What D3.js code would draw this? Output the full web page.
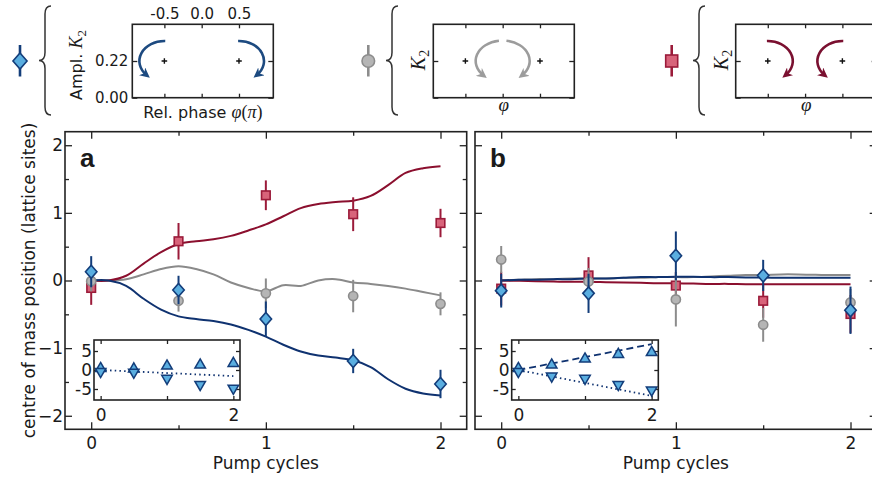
<!DOCTYPE html>
<meta charset="utf-8">
<head>
<style>
    body {margin: 0; background: #fff;}
    text {font-family: "DejaVu Sans", sans-serif; fill: #1a1a1a;}
    .math {font-family: "Liberation Serif", "DejaVu Serif", serif; font-style: italic;}
    .up {font-family: "Liberation Serif", "DejaVu Serif", serif; font-style: normal;}
</style>
</head>
<body>
<div class="chart"></div>
<script src="https://d3js.org/d3.v7.min.js"></script>
<script>
// ---- data ----
var pumpX = [0, 0.5, 1, 1.5, 2];

var aBlue = [0.13, -0.14, -0.57, -1.19, -1.53];
var aBlueErr = [0.23, 0.21, 0.26, 0.18, 0.21];
var aGray = [-0.01, -0.30, -0.19, -0.23, -0.345];
var aGrayErr = [0.15, 0.16, 0.22, 0.24, 0.17];
var aRed = [-0.11, 0.58, 1.26, 0.98, 0.85];
var aRedErr = [0.25, 0.27, 0.22, 0.25, 0.21];

var bBlue = [-0.15, -0.19, 0.365, 0.075, -0.44];
var bBlueErr = [0.25, 0.29, 0.36, 0.23, 0.35];
var bGray = [0.31, -0.015, -0.28, -0.655, -0.325];
var bGrayErr = [0.20, 0.20, 0.40, 0.25, 0.20];
var bRed = [-0.12, 0.075, -0.075, -0.30, -0.495];
var bRedErr = [0.25, 0.27, 0.20, 0.25, 0.28];

// theory curves, sampled every 0.1 cycle
var theoryX = [0, 0.1, 0.2, 0.3, 0.4, 0.5, 0.6, 0.7, 0.8, 0.9, 1.0, 1.1, 1.2, 1.3, 1.4, 1.5, 1.6, 1.7, 1.8, 1.9, 2.0];
var aRedTh = [0, 0.0, 0.07, 0.25, 0.42, 0.54, 0.58, 0.61, 0.66, 0.74, 0.83, 0.95, 1.07, 1.13, 1.16, 1.18, 1.25, 1.41, 1.59, 1.66, 1.69];
var aGrayTh = [0, 0.0, 0.02, 0.09, 0.17, 0.21, 0.17, 0.09, -0.03, -0.11, -0.16, -0.07, -0.08, 0.0, 0.02, -0.03, -0.05, -0.08, -0.12, -0.17, -0.22];
var aBlueTh = [0, 0.0, -0.08, -0.27, -0.43, -0.53, -0.57, -0.60, -0.65, -0.73, -0.83, -0.95, -1.05, -1.11, -1.14, -1.18, -1.28, -1.46, -1.60, -1.67, -1.70];
var bGrayTh = [0, 0.01, 0.02, 0.02, 0.03, 0.03, 0.03, 0.04, 0.04, 0.05, 0.05, 0.05, 0.06, 0.07, 0.08, 0.08, 0.09, 0.09, 0.085, 0.08, 0.08];
var bBlueTh = [0, 0.01, 0.01, 0.02, 0.02, 0.03, 0.03, 0.04, 0.05, 0.05, 0.055, 0.055, 0.05, 0.05, 0.045, 0.045, 0.04, 0.04, 0.04, 0.04, 0.04];
var bRedTh = [0, -0.005, -0.01, -0.015, -0.02, -0.02, -0.025, -0.03, -0.035, -0.04, -0.04, -0.045, -0.05, -0.05, -0.055, -0.055, -0.055, -0.055, -0.055, -0.055, -0.055];

// insets
var insetX = [0, 0.5, 1, 1.5, 2];
var aUp = [0.4, 0.3, 1.05, 1.3, 1.75];
var aDown = [-0.4, -0.6, -2.2, -3.8, -4.8];
var aFitX = [0, 2], aFitDown = [0, -1.6];
var bUp = [0.4, 1.3, 2.9, 4.1, 4.6];
var bDown = [-0.4, -1.6, -2.2, -3.8, -5.3];
var bFitX = [0, 2], bFitUp = [0, 6.8], bFitDown = [0, -6.8];

// schematics
var phaseTicks = [-0.5, 0, 0.5];
var phaseLabels = ["-0.5", "0.0", "0.5"];
var ampTicks = [0, 0.22];
var ampLabels = ["0.00", "0.22"];
var sitePhase = [-0.5, 0.5], siteAmp = 0.22;

var xTicksMajor = [0, 1, 2], xTicksMinor = [0.5, 1.5];
var yTicksMajor = [-2, -1, 0, 1, 2], yTicksMinor = [-1.5, -0.5, 0.5, 1.5];

// ---- colours ----
var cBlue = "#0f3270", cBlueFill = "#5aaee0", cBlueEdge = "#133d7a";
var cRed = "#8b0f2e", cRedFill = "#d8637a", cRedEdge = "#9b1b3a";
var cGray = "#8a8a8a", cGrayFill = "#b5b5b5", cGrayEdge = "#8c8c8c";

var width = 872, height = 477;
var plotTop = 131.7, plotBot = 429.3;

var svg = d3.select(".chart").append("svg")
    .attr("width", width)
    .attr("height", height);

var defs = svg.append("defs");
[["blue", "#1d4a80"], ["gray", "#9c9c9c"], ["red", "#7a1030"]].forEach(function (m) {
    defs.append("marker").attr("id", "ah-" + m[0])
        .attr("viewBox", "0 0 10 10").attr("refX", 6).attr("refY", 5)
        .attr("markerWidth", 10).attr("markerHeight", 10)
        .attr("markerUnits", "userSpaceOnUse").attr("orient", "auto")
        .append("path").attr("d", "M0,0 L10,5 L0,10 L3,5 Z").attr("fill", m[1]);
});

function styleAxis(g, size) {
    g.attr("font-family", "DejaVu Sans").attr("font-size", size);
    g.select(".domain").remove();
    g.selectAll("line").attr("stroke", "#222").attr("stroke-width", 1.3);
    g.selectAll("text").attr("fill", "#1a1a1a");
}

function drawMarker(g, type, cx, cy, s, fill, edge) {
    if (type == "diamond") {
        g.append("path")
            .attr("d", "M" + cx + "," + (cy - s) + " L" + (cx + s * 0.88) + "," + cy +
                " L" + cx + "," + (cy + s) + " L" + (cx - s * 0.88) + "," + cy + " Z")
            .attr("fill", fill).attr("stroke", edge).attr("stroke-width", 1.6);
    } else if (type == "square") {
        g.append("rect").attr("x", cx - s).attr("y", cy - s)
            .attr("width", 2 * s).attr("height", 2 * s)
            .attr("fill", fill).attr("stroke", edge).attr("stroke-width", 1.6);
    } else {
        g.append("circle").attr("cx", cx).attr("cy", cy).attr("r", s)
            .attr("fill", fill).attr("stroke", edge).attr("stroke-width", 1.6);
    }
}

function drawPanel(left, right, letter, curves, series, minorY, yLabels) {
    var x = d3.scaleLinear().domain([-0.15, 2.15]).range([left, right]);
    var y = d3.scaleLinear().domain([-2.2, 2.2]).range([plotBot, plotTop]);
    var g = svg.append("g");

    // inward ticks on all four sides
    g.append("g").attr("transform", "translate(0," + plotBot + ")")
        .call(d3.axisBottom(x).tickValues(xTicksMajor).tickSize(-7).tickPadding(8).tickFormat(d3.format("d")))
        .call(styleAxis, 17);
    g.append("g").attr("transform", "translate(0," + plotBot + ")")
        .call(d3.axisBottom(x).tickValues(xTicksMinor).tickSize(-4).tickFormat(""))
        .call(styleAxis, 17);
    g.append("g").attr("transform", "translate(0," + plotTop + ")")
        .call(d3.axisTop(x).tickValues(xTicksMajor).tickSize(-7).tickFormat(""))
        .call(styleAxis, 17);
    g.append("g").attr("transform", "translate(0," + plotTop + ")")
        .call(d3.axisTop(x).tickValues(xTicksMinor).tickSize(-4).tickFormat(""))
        .call(styleAxis, 17);
    g.append("g").attr("transform", "translate(" + left + ",0)")
        .call(d3.axisLeft(y).tickValues(yTicksMajor).tickSize(-7).tickPadding(2)
            .tickFormat(yLabels ? d3.format("d") : ""))
        .call(styleAxis, 17);
    g.append("g").attr("transform", "translate(" + right + ",0)")
        .call(d3.axisRight(y).tickValues(yTicksMajor).tickSize(-7).tickFormat(""))
        .call(styleAxis, 17);
    if (minorY) {
        g.append("g").attr("transform", "translate(" + left + ",0)")
            .call(d3.axisLeft(y).tickValues(yTicksMinor).tickSize(-4).tickFormat(""))
            .call(styleAxis, 17);
        g.append("g").attr("transform", "translate(" + right + ",0)")
            .call(d3.axisRight(y).tickValues(yTicksMinor).tickSize(-4).tickFormat(""))
            .call(styleAxis, 17);
    }

    var line = d3.line()
        .x(function (d, i) { return x(theoryX[i]); })
        .y(function (d) { return y(d); })
        .curve(d3.curveCatmullRom);
    curves.forEach(function (c) {
        g.append("path").attr("d", line(c.v))
            .attr("fill", "none").attr("stroke", c.color).attr("stroke-width", 2);
    });

    series.forEach(function (s) {
        s.v.forEach(function (v, i) {
            g.append("line")
                .attr("x1", x(pumpX[i])).attr("x2", x(pumpX[i]))
                .attr("y1", y(v - s.e[i])).attr("y2", y(v + s.e[i]))
                .attr("stroke", s.edge).attr("stroke-width", 2);
        });
        s.v.forEach(function (v, i) {
            drawMarker(g, s.type, x(pumpX[i]), y(v), s.size, s.fill, s.edge);
        });
    });

    g.append("rect").attr("x", left).attr("y", plotTop)
        .attr("width", right - left).attr("height", plotBot - plotTop)
        .attr("fill", "none").attr("stroke", "#222").attr("stroke-width", 1.6);

    g.append("text").attr("x", left + 15).attr("y", 166.5)
        .attr("font-weight", "bold").attr("font-size", 26)
        .style("font-family", "Liberation Sans, Arial, sans-serif")
        .text(letter);

    g.append("text").attr("x", x(1)).attr("y", 469)
        .attr("text-anchor", "middle").attr("font-size", 17)
        .text("Pump cycles");
}

function drawInset(left, right, up, down, fits) {
    var top = 340, bot = 400;
    var x = d3.scaleLinear().domain([-0.1, 2.1]).range([left, right]);
    var y = d3.scaleLinear().domain([-7.9, 7.9]).range([bot, top]);
    var g = svg.append("g");
    g.append("rect").attr("x", left).attr("y", top)
        .attr("width", right - left).attr("height", bot - top).attr("fill", "#fff");

    g.append("g").attr("transform", "translate(0," + bot + ")")
        .call(d3.axisBottom(x).tickValues([0, 1, 2]).tickSize(-4).tickPadding(9)
            .tickFormat(function (d) { return d == 1 ? "" : d; }))
        .call(styleAxis, 17);
    g.append("g").attr("transform", "translate(0," + top + ")")
        .call(d3.axisTop(x).tickValues([0, 1, 2]).tickSize(-4).tickFormat(""))
        .call(styleAxis, 17);
    g.append("g").attr("transform", "translate(" + left + ",0)")
        .call(d3.axisLeft(y).tickValues([-5, 0, 5]).tickSize(-4).tickPadding(2)
            .tickFormat(function (d) { return d < 0 ? "-" + (-d) : d; }))
        .call(styleAxis, 17);
    g.append("g").attr("transform", "translate(" + right + ",0)")
        .call(d3.axisRight(y).tickValues([-5, 0, 5]).tickSize(-4).tickFormat(""))
        .call(styleAxis, 17);

    var line = d3.line()
        .x(function (d) { return x(d[0]); })
        .y(function (d) { return y(d[1]); });
    fits.forEach(function (f) {
        g.append("path").attr("d", line(f.x.map(function (v, i) { return [v, f.v[i]]; })))
            .attr("fill", "none").attr("stroke", cBlue).attr("stroke-width", 1.8)
            .attr("stroke-dasharray", f.dash);
    });

    var tri = d3.symbol().type(d3.symbolTriangle).size(48);
    insetX.forEach(function (xv, i) {
        g.append("path").attr("d", tri())
            .attr("transform", "translate(" + x(xv) + "," + y(up[i]) + ")")
            .attr("fill", cBlueFill).attr("stroke", cBlueEdge).attr("stroke-width", 1.5);
        g.append("path").attr("d", tri())
            .attr("transform", "translate(" + x(xv) + "," + y(down[i]) + ") rotate(180)")
            .attr("fill", cBlueFill).attr("stroke", cBlueEdge).attr("stroke-width", 1.5);
    });

    g.append("rect").attr("x", left).attr("y", top)
        .attr("width", right - left).attr("height", bot - top)
        .attr("fill", "none").attr("stroke", "#222").attr("stroke-width", 1.6);
}

// ---- main panels ----
drawPanel(65, 466.7, "a",
    [{v: aGrayTh, color: cGray}, {v: aRedTh, color: cRed}, {v: aBlueTh, color: cBlue}],
    [{v: aRed, e: aRedErr, type: "square", size: 4.3, fill: cRedFill, edge: cRedEdge},
     {v: aGray, e: aGrayErr, type: "circle", size: 4.6, fill: cGrayFill, edge: cGrayEdge},
     {v: aBlue, e: aBlueErr, type: "diamond", size: 6.5, fill: cBlueFill, edge: cBlueEdge}],
    true, true);

drawPanel(475, 876.7, "b",
    [{v: bGrayTh, color: cGray}, {v: bRedTh, color: cRed}, {v: bBlueTh, color: cBlue}],
    [{v: bRed, e: bRedErr, type: "square", size: 4.3, fill: cRedFill, edge: cRedEdge},
     {v: bGray, e: bGrayErr, type: "circle", size: 4.6, fill: cGrayFill, edge: cGrayEdge},
     {v: bBlue, e: bBlueErr, type: "diamond", size: 6.5, fill: cBlueFill, edge: cBlueEdge}],
    false, false);

drawInset(94, 240, aUp, aDown, [{x: aFitX, v: aFitDown, dash: "1.5,3.2"}]);
drawInset(511.7, 658.3, bUp, bDown,
    [{x: bFitX, v: bFitUp, dash: "7,4"}, {x: bFitX, v: bFitDown, dash: "1.5,3.2"}]);

svg.append("text")
    .attr("transform", "translate(35,280.5) rotate(-90)")
    .attr("text-anchor", "middle").attr("font-size", 17)
    .text("centre of mass position (lattice sites)");

// ---- schematics along the top ----
function brace(x0, y0, y1) {
    var w = 12, r = 8, ym = (y0 + y1) / 2, xm = x0 + w / 2;
    return "M" + (x0 + w) + "," + y0 + " Q" + xm + "," + y0 + " " + xm + "," + (y0 + r) +
        " L" + xm + "," + (ym - r) + " Q" + xm + "," + ym + " " + x0 + "," + ym +
        " Q" + xm + "," + ym + " " + xm + "," + (ym + r) +
        " L" + xm + "," + (y1 - r) + " Q" + xm + "," + y1 + " " + (x0 + w) + "," + y1;
}

function arcPath(cx, cy, rx, ry, a0, a1) {
    var r0 = a0 * Math.PI / 180, r1 = a1 * Math.PI / 180;
    var xs = cx + rx * Math.cos(r0), ys = cy - ry * Math.sin(r0);
    var xe = cx + rx * Math.cos(r1), ye = cy - ry * Math.sin(r1);
    var sweep = a1 > a0 ? 0 : 1;
    return "M" + xs + "," + ys + " A" + rx + "," + ry + " 0 0 " + sweep + " " + xe + "," + ye;
}

var schematics = [
    {left: 132.3, braceX: 39, mk: "diamond", mx: 20, fill: cBlueFill, edge: cBlueEdge, size: 8,
     arrow: "blue", color: "#1d4a80", rx: 25, ry: 20,
     arcs: [{c: -0.5, a0: 88, a1: 225}, {c: 0.5, a0: 92, a1: -45}]},
    {left: 433.3, braceX: 386, mk: "circle", mx: 368.3, fill: cGrayFill, edge: cGrayEdge, size: 6.3,
     arrow: "gray", color: "#9c9c9c", rx: 27, ry: 20.5,
     arcs: [{c: 0, a0: 98, a1: 225}, {c: 0, a0: 82, a1: -45}]},
    {left: 735.7, braceX: 693, mk: "square", mx: 671.7, fill: cRedFill, edge: cRedEdge, size: 6,
     arrow: "red", color: "#7a1030", rx: 25, ry: 20,
     arcs: [{c: -0.5, a0: 92, a1: -45}, {c: 0.5, a0: 88, a1: 225}]}
];

schematics.forEach(function (s, k) {
    var sx = d3.scaleLinear().domain([-0.93, 0.96]).range([s.left, s.left + 141]);
    var sy = d3.scaleLinear().domain([0, 0.44]).range([97.7, 24.3]);
    var g = svg.append("g");

    // legend marker with its bar
    g.append("line").attr("x1", s.mx).attr("x2", s.mx).attr("y1", 45).attr("y2", 76.5)
        .attr("stroke", s.edge).attr("stroke-width", 2.6);
    drawMarker(g, s.mk, s.mx, 61, s.size, s.fill, s.edge);

    g.append("path").attr("d", brace(s.braceX, 6, 115))
        .attr("fill", "none").attr("stroke", "#333").attr("stroke-width", 1.5);

    g.append("g").attr("transform", "translate(0,24.3)")
        .call(d3.axisTop(sx).tickValues(phaseTicks).tickSize(-4).tickPadding(5)
            .tickFormat(function (d, i) { return k == 0 ? phaseLabels[i] : ""; }))
        .call(styleAxis, 15);
    g.append("g").attr("transform", "translate(0,97.7)")
        .call(d3.axisBottom(sx).tickValues(phaseTicks).tickSize(-4).tickFormat(""))
        .call(styleAxis, 15);
    g.append("g").attr("transform", "translate(" + s.left + ",0)")
        .call(d3.axisLeft(sy).tickValues(ampTicks).tickSize(-5).tickPadding(4)
            .tickFormat(function (d, i) { return k == 0 ? ampLabels[i] : ""; }))
        .call(styleAxis, 15);
    g.append("g").attr("transform", "translate(" + (s.left + 141) + ",0)")
        .call(d3.axisRight(sy).tickValues(ampTicks).tickSize(-5).tickFormat(""))
        .call(styleAxis, 15);

    sitePhase.forEach(function (p) {
        var cx = sx(p), cy = sy(siteAmp);
        g.append("path").attr("d", "M" + (cx - 2.8) + "," + cy + " H" + (cx + 2.8) +
            " M" + cx + "," + (cy - 2.8) + " V" + (cy + 2.8))
            .attr("stroke", "#111").attr("stroke-width", 1.4);
    });

    s.arcs.forEach(function (a) {
        g.append("path").attr("d", arcPath(sx(a.c), sy(siteAmp), s.rx, s.ry, a.a0, a.a1))
            .attr("fill", "none").attr("stroke", s.color).attr("stroke-width", 2.6)
            .attr("marker-end", "url(#ah-" + s.arrow + ")");
    });

    g.append("rect").attr("x", s.left).attr("y", 24.3).attr("width", 141).attr("height", 73.4)
        .attr("fill", "none").attr("stroke", "#222").attr("stroke-width", 1.6);

    var cxBox = s.left + 70.5;
    if (k == 0) {
        var t = g.append("text").attr("x", cxBox).attr("y", 117.5)
            .attr("text-anchor", "middle").attr("font-size", 16);
        t.append("tspan").text("Rel. phase ");
        t.append("tspan").attr("class", "math").attr("font-size", 18).text("\u03c6");
        t.append("tspan").attr("class", "up").attr("font-size", 18).text("(");
        t.append("tspan").attr("class", "math").attr("font-size", 18).text("\u03c0");
        t.append("tspan").attr("class", "up").attr("font-size", 18).text(")");

        var a = g.append("text").attr("transform", "translate(82,65) rotate(-90)")
            .attr("text-anchor", "middle").attr("font-size", 16);
        a.append("tspan").text("Ampl. ");
        a.append("tspan").attr("class", "math").attr("font-size", 18).text("K");
        a.append("tspan").attr("class", "up").attr("font-size", 13).attr("dy", 4).text("2");
    } else {
        g.append("text").attr("x", cxBox).attr("y", 111)
            .attr("text-anchor", "middle").attr("class", "math").attr("font-size", 19)
            .text("\u03c6");
        var kk = g.append("text").attr("transform", "translate(" + (s.left - 8) + ",60) rotate(-90)")
            .attr("text-anchor", "middle").attr("font-size", 20);
        kk.append("tspan").attr("class", "math").text("K");
        kk.append("tspan").attr("class", "up").attr("font-size", 14).attr("dy", 4).text("2");
    }
});
</script>
</body>
